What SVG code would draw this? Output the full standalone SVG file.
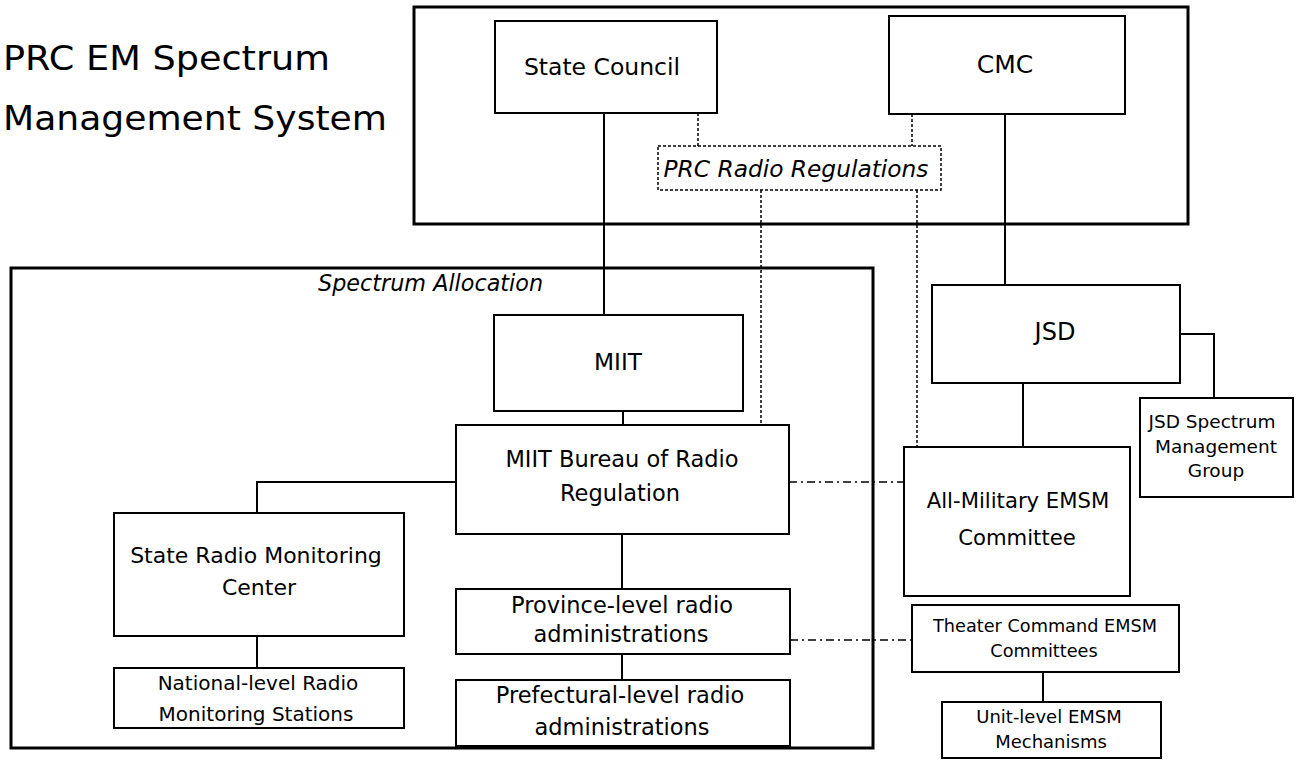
<svg xmlns="http://www.w3.org/2000/svg" width="1297" height="761" viewBox="0 0 1297 761">
<style>
text{font-family:"DejaVu Sans","Liberation Sans",sans-serif;fill:#000}
.c{text-anchor:middle}
.i{font-style:italic}
.box{fill:#fff;stroke:#000;stroke-width:2}
.frame{fill:none;stroke:#000;stroke-width:3}
.dbox{fill:#fff;stroke:#000;stroke-width:1.5;stroke-dasharray:3 2}
.s{fill:none;stroke:#000;stroke-width:2}
.d{fill:none;stroke:#000;stroke-width:1.5;stroke-dasharray:3 2}
.dd{fill:none;stroke:#000;stroke-width:1.5;stroke-dasharray:8 4 2 4}
</style>
<rect width="1297" height="761" fill="#fff"/>
<g id="title">
<text x="3" y="70" font-size="33" textLength="327" lengthAdjust="spacingAndGlyphs">PRC EM Spectrum</text>
<text x="3" y="130" font-size="33" textLength="384" lengthAdjust="spacingAndGlyphs">Management System</text>
</g>
<g id="frames">
<rect class="frame" x="414" y="7" width="774" height="217"/>
<rect class="frame" x="11" y="268" width="862" height="480"/>
<text class="i" x="318" y="291" font-size="22.3">Spectrum Allocation</text>
</g>
<g id="connectors">
<path class="s" d="M604,113V315"/>
<path class="s" d="M623,411V425"/>
<path class="s" d="M456,482H257V513"/>
<path class="s" d="M257,636V668"/>
<path class="s" d="M622,534V589"/>
<path class="s" d="M622,654V680"/>
<path class="s" d="M1005,114V285"/>
<path class="s" d="M1023,383V447"/>
<path class="s" d="M1180,334H1214V398"/>
<path class="s" d="M1043,672V702"/>
<path class="d" d="M698,113V146"/>
<path class="d" d="M912,114V146"/>
<path class="d" d="M761,190V425"/>
<path class="d" d="M917,190V447"/>
<path class="dd" d="M789,482H904"/>
<path class="dd" d="M790,640H912"/>
</g>
<g id="state-council">
<rect class="box" x="495" y="21" width="222" height="92"/>
<text class="c" x="602" y="75" font-size="23.5">State Council</text>
</g>
<g id="cmc">
<rect class="box" x="889" y="16" width="236" height="98"/>
<text class="c" x="1005" y="73" font-size="25">CMC</text>
</g>
<g id="prc-radio-regulations">
<rect class="dbox" x="658" y="146" width="283" height="44"/>
<text class="c i" x="796" y="177" font-size="23.3">PRC Radio Regulations</text>
</g>
<g id="miit">
<rect class="box" x="494" y="315" width="249" height="96"/>
<text class="c" x="618" y="370" font-size="23.3">MIIT</text>
</g>
<g id="miit-bureau">
<rect class="box" x="456" y="425" width="333" height="109"/>
<text class="c" x="622" y="467" font-size="22.5">MIIT Bureau of Radio</text>
<text class="c" x="620" y="501" font-size="22.5">Regulation</text>
</g>
<g id="state-radio-monitoring-center">
<rect class="box" x="114" y="513" width="290" height="123"/>
<text class="c" x="256" y="563" font-size="22">State Radio Monitoring</text>
<text class="c" x="259" y="595" font-size="22">Center</text>
</g>
<g id="national-level-stations">
<rect class="box" x="114" y="668" width="290" height="60"/>
<text class="c" x="258" y="690" font-size="20">National-level Radio</text>
<text class="c" x="256" y="721" font-size="20">Monitoring Stations</text>
</g>
<g id="province-level">
<rect class="box" x="456" y="589" width="334" height="65"/>
<text class="c" x="622" y="613" font-size="22.5">Province-level radio</text>
<text class="c" x="621" y="642" font-size="22.5">administrations</text>
</g>
<g id="prefectural-level">
<rect class="box" x="456" y="680" width="334" height="66"/>
<text class="c" x="620" y="703" font-size="22.5">Prefectural-level radio</text>
<text class="c" x="622" y="735" font-size="22.5">administrations</text>
</g>
<g id="jsd">
<rect class="box" x="932" y="285" width="248" height="98"/>
<text class="c" x="1055" y="340" font-size="24">JSD</text>
</g>
<g id="jsd-smg">
<rect class="box" x="1140" y="398" width="153" height="99"/>
<text class="c" x="1212" y="428" font-size="18.5">JSD Spectrum</text>
<text class="c" x="1216" y="453" font-size="18.5">Management</text>
<text class="c" x="1216" y="477" font-size="18.5">Group</text>
</g>
<g id="all-military">
<rect class="box" x="904" y="447" width="226" height="149"/>
<text class="c" x="1018" y="508" font-size="21.2">All-Military EMSM</text>
<text class="c" x="1017" y="545" font-size="21.2">Committee</text>
</g>
<g id="theater-command">
<rect class="box" x="912" y="605" width="267" height="67"/>
<text class="c" x="1045" y="632" font-size="17.7">Theater Command EMSM</text>
<text class="c" x="1044" y="657" font-size="17.7">Committees</text>
</g>
<g id="unit-level">
<rect class="box" x="942" y="702" width="219" height="56"/>
<text class="c" x="1049" y="723" font-size="18">Unit-level EMSM</text>
<text class="c" x="1051" y="748" font-size="18">Mechanisms</text>
</g>
</svg>
